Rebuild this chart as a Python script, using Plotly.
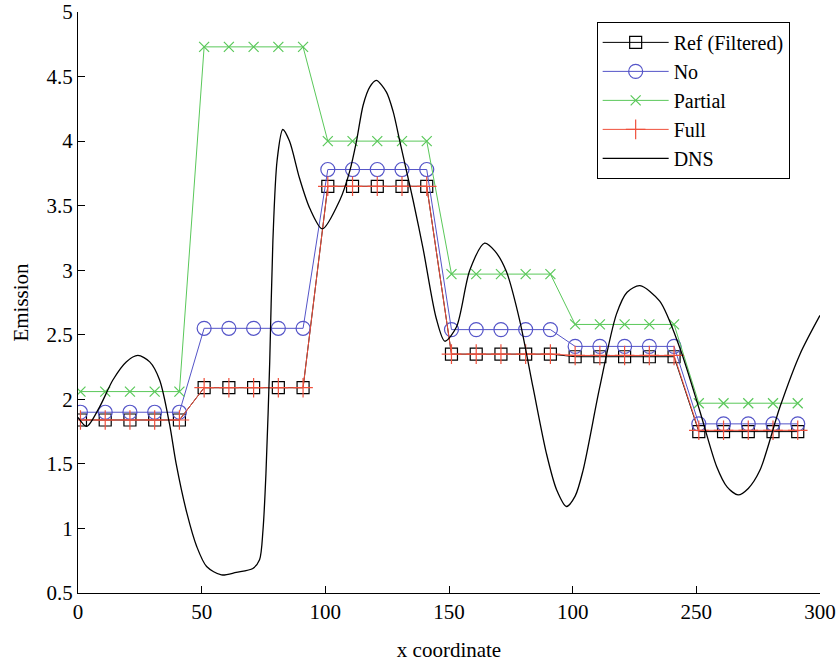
import plotly.graph_objects as go

x_cells = [1, 11, 21, 31, 41, 51, 61, 71, 81, 91, 101, 111, 121, 131, 141,
           151, 161, 171, 181, 191, 201, 211, 221, 231, 241, 251, 261, 271, 281, 291]

ref_vals = [1.84]*5 + [2.09]*5 + [3.65]*5 + [2.35]*5 + [2.33]*5 + [1.75]*5
no_vals = [1.90]*5 + [2.55]*5 + [3.78]*5 + [2.54]*5 + [2.41]*5 + [1.81]*5
partial_vals = [2.06]*5 + [4.73]*5 + [4.00]*5 + [2.97]*5 + [2.58]*5 + [1.97]*5
full_vals = [1.84]*5 + [2.09]*5 + [3.65]*5 + [2.35]*5 + [2.34]*5 + [1.76]*5

dns_x = [0, 3.5, 8.7, 14.1, 19.5, 24.2, 29, 33, 37, 39.7, 44, 48, 52, 58, 64, 70.7, 73.4,
         74.8, 76, 77.5, 78.8, 80.5, 82.8, 85.5, 89.6, 93.7, 98.8, 105.8, 109.9, 112.6,
         115.3, 118, 120.6, 124.7, 127.4, 130.1, 132.8, 135.5, 139.5, 144.8, 148.3, 153,
         158.4, 164.4, 168.5, 173.2, 178.6, 184, 189.4, 193.5, 197.5, 201, 204.2, 210.9,
         217.7, 222, 227.2, 235.2, 243.3, 251.4, 258.2, 262.5, 266.9, 271, 275.7, 283.8,
         291.9, 300]
dns_y = [1.86, 1.79, 1.94, 2.15, 2.29, 2.34, 2.29, 2.15, 1.81, 1.50, 1.12, 0.86, 0.705, 0.64,
         0.66, 0.69, 0.757, 0.99, 1.43, 2.28, 3.23, 3.85, 4.09, 4.0, 3.71, 3.48, 3.32,
         3.54, 3.77, 4.0, 4.28, 4.42, 4.47, 4.38, 4.23, 4.0, 3.77, 3.54, 3.17, 2.63, 2.45,
         2.56, 3.00, 3.21, 3.15, 2.99, 2.61, 2.09, 1.58, 1.30, 1.17, 1.25, 1.45, 2.09,
         2.66, 2.83, 2.88, 2.76, 2.40, 1.91, 1.48, 1.32, 1.26, 1.31, 1.45, 1.94,
         2.35, 2.65]

x_tickvals = [0, 50, 100, 150, 200, 250, 300]
x_ticktext = ["0", "50", "100", "150", "100", "250", "300"]
y_tickvals = [0.5, 1, 1.5, 2, 2.5, 3, 3.5, 4, 4.5, 5]
y_ticktext = ["0.5", "1", "1.5", "2", "2.5", "3", "3.5", "4", "4.5", "5"]

BLUE = "#5454c8"
GREEN = "#5ac85a"
RED = "#f0503c"

fig = go.Figure()
fig.add_trace(go.Scatter(x=x_cells, y=ref_vals, name="Ref (Filtered)", mode="lines+markers",
                         line=dict(color="black", width=1),
                         marker=dict(symbol="square-open", size=12, color="black", line=dict(width=1.2))))
fig.add_trace(go.Scatter(x=x_cells, y=no_vals, name="No", mode="lines+markers",
                         line=dict(color=BLUE, width=1),
                         marker=dict(symbol="circle-open", size=14, color=BLUE, line=dict(width=1.2))))
fig.add_trace(go.Scatter(x=x_cells, y=partial_vals, name="Partial", mode="lines+markers",
                         line=dict(color=GREEN, width=1),
                         marker=dict(symbol="x-thin-open", size=10, color=GREEN, line=dict(width=1.2, color=GREEN))))
fig.add_trace(go.Scatter(x=x_cells, y=full_vals, name="Full", mode="lines+markers",
                         line=dict(color=RED, width=1),
                         marker=dict(symbol="cross-thin-open", size=14, color=RED, line=dict(width=1.2, color=RED))))
fig.add_trace(go.Scatter(x=dns_x, y=dns_y, name="DNS", mode="lines",
                         line=dict(color="black", width=1.3, shape="spline", smoothing=0.8)))

font_family = "Liberation Serif"
fig.update_layout(
    width=838, height=662,
    margin=dict(l=78, r=18, t=12, b=69),
    paper_bgcolor="white", plot_bgcolor="white",
    font=dict(family=font_family, size=21, color="black"),
    showlegend=True,
    legend=dict(x=0.699, y=0.983, xanchor="left", yanchor="top",
                bgcolor="white", bordercolor="black", borderwidth=1,
                font=dict(family=font_family, size=20), tracegroupgap=0, itemwidth=66,
                entrywidth=215, entrywidthmode="pixels"),
    xaxis=dict(range=[0, 300], tickmode="array", tickvals=x_tickvals, ticktext=x_ticktext,
               showline=True, linecolor="black", linewidth=1.3, ticks="inside", ticklen=7,
               tickcolor="black", showgrid=False, zeroline=False, mirror=False, automargin=False,
               tickfont=dict(size=21), ticklabeloverflow="allow",
               title=dict(text="x coordinate", standoff=18, font=dict(size=21))),
    yaxis=dict(range=[0.5, 5], tickmode="array", tickvals=y_tickvals, ticktext=y_ticktext,
               showline=True, linecolor="black", linewidth=1.3, ticks="inside", ticklen=7,
               tickcolor="black", showgrid=False, zeroline=False, mirror=False, automargin=False,
               tickfont=dict(size=21), ticklabeloverflow="allow",
               title=dict(text="Emission", standoff=12, font=dict(size=21))),
)

fig.write_html("out.html", config={"displayModeBar": False},
               post_script="document.body.style.margin='0';")
